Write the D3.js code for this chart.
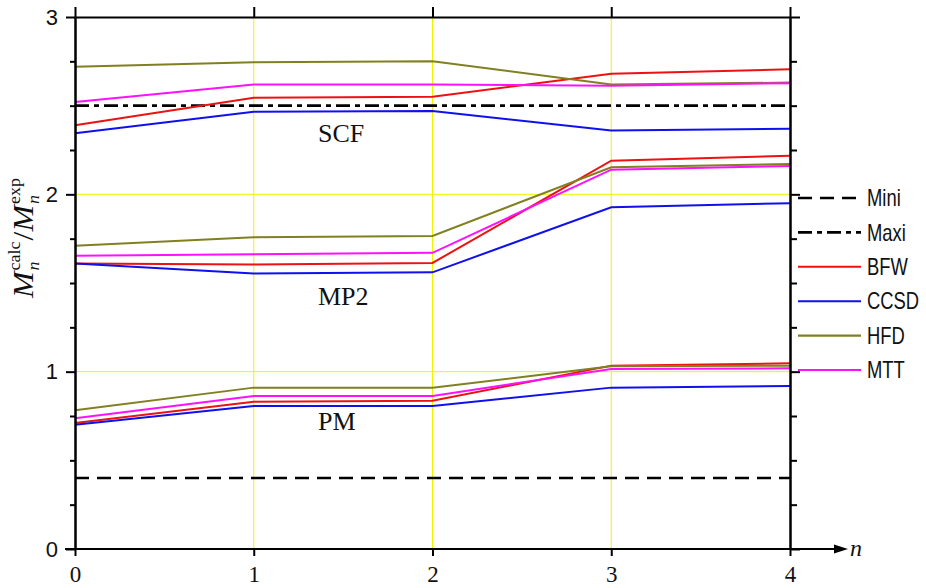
<!DOCTYPE html>
<html><head><meta charset="utf-8">
<script src="https://cdn.jsdelivr.net/npm/d3@7"></script>
<style>html,body{margin:0;padding:0;background:#fff;}</style>
</head><body>
<svg id="c" width="926" height="588"></svg>
<script>
// ---- data ----
const nValues = [0, 1, 2, 3, 4];
const xTickLabels = ["0", "1", "2", "3", "4"];
const yTickValues = [0, 1, 2, 3];
const seriesNames = ["BFW", "CCSD", "HFD", "MTT"];
const seriesColors = ["#ee1111", "#1010ee", "#808020", "#ff10ff"];
const scfBFW  = [2.39, 2.545, 2.55, 2.68, 2.705];
const scfCCSD = [2.345, 2.465, 2.47, 2.36, 2.37];
const scfHFD  = [2.72, 2.745, 2.75, 2.62, 2.63];
const scfMTT  = [2.52, 2.62, 2.62, 2.613, 2.627];
const mp2BFW  = [1.61, 1.605, 1.613, 2.19, 2.217];
const mp2CCSD = [1.61, 1.553, 1.56, 1.927, 1.95];
const mp2HFD  = [1.71, 1.758, 1.765, 2.153, 2.171];
const mp2MTT  = [1.653, 1.662, 1.67, 2.139, 2.16];
const pmBFW   = [0.71, 0.831, 0.836, 1.034, 1.047];
const pmCCSD  = [0.70, 0.807, 0.807, 0.91, 0.919];
const pmHFD   = [0.782, 0.91, 0.91, 1.03, 1.034];
const pmMTT   = [0.737, 0.863, 0.863, 1.015, 1.019];
const miniValue = 0.40;
const maxiValue = 2.50;
const groupLabels = ["SCF", "MP2", "PM"];
const groupLabelY = [2.295, 1.375, 0.673];
const legendNames = ["Mini", "Maxi", "BFW", "CCSD", "HFD", "MTT"];

// ---- build ----
const groups = [
  [scfBFW, scfCCSD, scfHFD, scfMTT],
  [mp2BFW, mp2CCSD, mp2HFD, mp2MTT],
  [pmBFW, pmCCSD, pmHFD, pmMTT]
];

const svg = d3.select("#c");
const x = d3.scaleLinear().domain([0, 4]).range([75, 790]);
const y = d3.scaleLinear().domain([0, 3]).range([549, 17]);

// grid
const gGrid = svg.append("g");
gGrid.selectAll("line.v").data([1, 2, 3]).join("line")
  .attr("x1", d => x(d)).attr("x2", d => x(d)).attr("y1", y(0)).attr("y2", y(3))
  .attr("stroke", "#f2f200").attr("stroke-width", 1);
gGrid.selectAll("line.h").data([1, 2]).join("line")
  .attr("x1", x(0)).attr("x2", x(4)).attr("y1", d => y(d)).attr("y2", d => y(d))
  .attr("stroke", "#f2f200").attr("stroke-width", 1);

// Mini / Maxi reference lines
svg.append("line").attr("x1", x(0)).attr("x2", x(4)).attr("y1", y(miniValue)).attr("y2", y(miniValue))
  .attr("stroke", "#000").attr("stroke-width", 2.6).attr("stroke-dasharray", "14,8");
svg.append("line").attr("x1", x(0)).attr("x2", x(4)).attr("y1", y(maxiValue)).attr("y2", y(maxiValue))
  .attr("stroke", "#000").attr("stroke-width", 2.6).attr("stroke-dasharray", "14,5,5,5");

// series lines
const line = d3.line().x((d, i) => x(nValues[i])).y(d => y(d));
groups.forEach(g => {
  g.forEach((vals, si) => {
    svg.append("path").attr("d", line(vals)).attr("fill", "none")
      .attr("stroke", seriesColors[si]).attr("stroke-width", 2);
  });
});

// group labels
svg.selectAll("text.grp").data(groupLabels).join("text")
  .attr("x", 318).attr("y", (d, i) => y(groupLabelY[i]))
  .attr("font-family", "'Liberation Serif','Times New Roman',serif").attr("font-size", 26)
  .attr("fill", "#111").text(d => d);

// axes
const minor = d3.range(0, 3.001, 0.25).filter(v => Math.abs(v - Math.round(v)) > 1e-6);
const sansAx = "'Liberation Sans',Arial,sans-serif";
const serifAx = "'Liberation Serif','Times New Roman',serif";

function styleAxis(g) {
  g.selectAll("path,line").attr("stroke", "#000").attr("stroke-width", 2);
}

// left
svg.append("g").attr("transform", `translate(${x(0)},0)`)
  .call(d3.axisLeft(y).tickValues(minor).tickSize(5).tickSizeOuter(0).tickFormat(""))
  .call(styleAxis);
svg.append("g").attr("transform", `translate(${x(0)},0)`)
  .call(d3.axisLeft(y).tickValues(yTickValues).tickSize(9).tickSizeOuter(0).tickPadding(8).tickFormat(d3.format("d")))
  .call(styleAxis)
  .call(g => g.selectAll("text").attr("font-family", sansAx).attr("font-size", 22).attr("fill", "#111"));
// right
svg.append("g").attr("transform", `translate(${x(4)},0)`)
  .call(d3.axisRight(y).tickValues(minor).tickSize(7).tickSizeOuter(0).tickFormat(""))
  .call(styleAxis);
svg.append("g").attr("transform", `translate(${x(4)},0)`)
  .call(d3.axisRight(y).tickValues(yTickValues).tickSize(10).tickSizeOuter(0).tickFormat(""))
  .call(styleAxis);
// top
svg.append("g").attr("transform", `translate(0,${y(3)})`)
  .call(d3.axisTop(x).tickValues(nValues).tickSize(10).tickSizeOuter(0).tickFormat(""))
  .call(styleAxis);
// bottom
const gB = svg.append("g").attr("transform", `translate(0,${y(0)})`)
  .call(d3.axisBottom(x).tickValues(nValues).tickSize(7).tickSizeOuter(0).tickPadding(10)
    .tickFormat((d, i) => xTickLabels[i]))
  .call(styleAxis)
  .call(g => g.selectAll("text").attr("font-family", serifAx).attr("font-size", 23).attr("fill", "#111"));
gB.select(".domain").remove();
// bottom axis with arrow
const arrowEnd = x(4) + 58;
svg.append("line").attr("x1", x(0) - 10).attr("x2", arrowEnd - 8).attr("y1", y(0)).attr("y2", y(0))
  .attr("stroke", "#000").attr("stroke-width", 2);
svg.append("path")
  .attr("d", `M${arrowEnd},${y(0)} L${arrowEnd - 14},${y(0) - 4.5} L${arrowEnd - 14},${y(0) + 4.5} Z`)
  .attr("fill", "#000");
svg.append("text").attr("x", arrowEnd + 2).attr("y", y(0) + 7)
  .attr("font-family", serifAx).attr("font-style", "italic").attr("font-size", 24)
  .attr("fill", "#111").text("n");

// y-axis label (rotated, stacked sub/superscripts)
const yl = svg.append("g").attr("transform", "translate(33,298) rotate(-90)");
const inner = yl.append("g");
let cx = 0;
function piece(txt, size, italic, dy) {
  const t = inner.append("text").attr("x", cx).attr("y", dy)
    .attr("font-family", serifAx).attr("font-size", size)
    .attr("font-style", italic ? "italic" : "normal").attr("fill", "#111").text(txt);
  return t.node().getComputedTextLength();
}
function stacked(sub, sup) {
  const w1 = piece(sub, 17, true, 6);
  const w2 = piece(sup, 17, false, -13);
  cx += Math.max(w1, w2) + 1;
}
cx += piece("M", 30, true, 0) + 1;
stacked("n", "calc");
cx += piece("/", 30, false, 0);
cx += piece("M", 30, true, 0) + 1;
stacked("n", "exp");
const targetLen = 121;
inner.attr("transform", `scale(${targetLen / cx},1)`);

// legend
const legY = d3.scaleLinear().domain([0, legendNames.length - 1]).range([198, 370]);
const legStyles = [
  { c: "#000", w: 2.6, da: "14,8" },
  { c: "#000", w: 2.6, da: "14,5,5,5" },
  { c: seriesColors[0], w: 2, da: null },
  { c: seriesColors[1], w: 2, da: null },
  { c: seriesColors[2], w: 2.4, da: null },
  { c: seriesColors[3], w: 2, da: null }
];
const lg = svg.append("g");
legendNames.forEach((nm, i) => {
  const ly = legY(i);
  lg.append("line").attr("x1", 798).attr("x2", 861).attr("y1", ly).attr("y2", ly)
    .attr("stroke", legStyles[i].c).attr("stroke-width", legStyles[i].w)
    .attr("stroke-dasharray", legStyles[i].da);
  const t = lg.append("text").attr("x", 0).attr("y", 0).attr("dy", "0.36em")
    .attr("transform", `translate(867,${ly}) scale(0.8,1)`)
    .attr("font-family", "'Liberation Sans',Arial,sans-serif")
    .attr("font-size", 23).attr("fill", "#111").text(nm);
});
</script>
</body></html>
